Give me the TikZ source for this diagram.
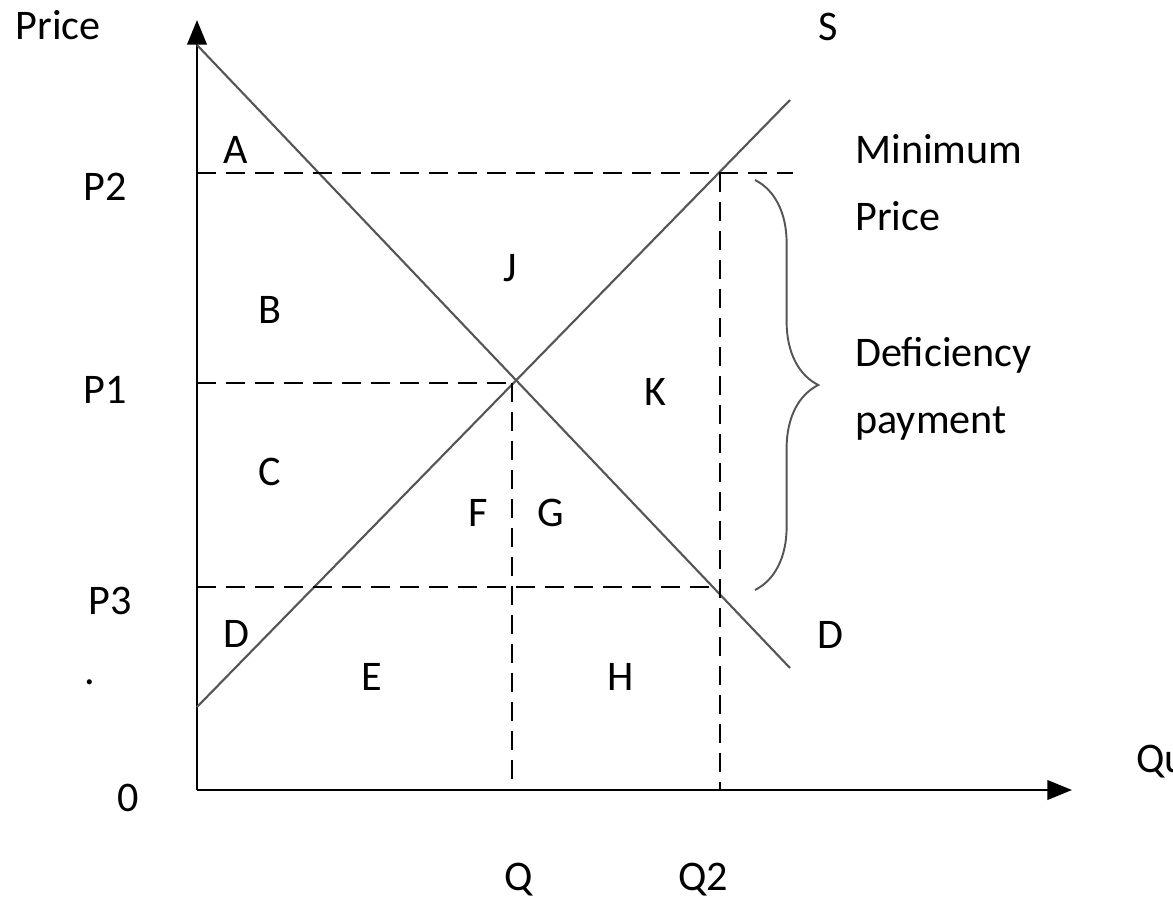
\documentclass[tikz,border=0pt]{standalone}
\usepackage{fontspec}
\setmainfont{Carlito}
\usetikzlibrary{arrows.meta, positioning, calc, decorations.pathreplacing}
\definecolor{cCurve}{RGB}{85,85,85}
\tikzset{
	axis/.style ={line width=1.6pt, -{Triangle[length=14pt, width=11pt]}},
	curve/.style={line width=1.2pt, draw=cCurve},
	guide/.style={line width=1.1pt, dash pattern=on 11pt off 5.5pt},
	lbl/.style  ={font=\fontsize{24}{38}\selectfont, inner sep=0pt},
	txt/.style  ={lbl, anchor=base west, align=left},
	brc/.style  ={line width=1.1pt, draw=cCurve, decorate, decoration={brace, amplitude=36pt}},
}

\begin{document}
\begin{tikzpicture}[x=0.02cm, y=-0.02cm]
	\clip (0,0) rectangle (1173,899);
	% axes
	\coordinate (O) at (197,790);
	\coordinate (ytop) at (197,20);
	\coordinate (xend) at (1072,790);
	\draw[axis] (O) -- (ytop);
	\draw[axis] (O) -- (xend);
	% demand and supply
	\coordinate (dtop) at (197,45);  \coordinate (dbot) at (790,668);
	\coordinate (sbot) at (197,707); \coordinate (stop) at (790,100);
	\draw[curve] (dtop) -- (dbot);
	\draw[curve] (sbot) -- (stop);
	% price levels and quantities
	\coordinate (eq) at (512,383);
	\coordinate (p2) at (197,173); \coordinate (p2end) at (793,173);
	\coordinate (p1) at (197,383);
	\coordinate (p3) at (197,587); \coordinate (p3end) at (720,587);
	\coordinate (q) at (512,790);
	\coordinate (q2top) at (720,173); \coordinate (q2) at (720,790);
	\draw[guide] (p2) -- (p2end);
	\draw[guide] (p1) -- (eq);
	\draw[guide] (p3) -- (p3end);
	\draw[guide] (eq) -- (q);
	\draw[guide] (q2top) -- (q2);
	% brace
	\coordinate (bt) at (755,180); \coordinate (bb) at (755,590);
	\draw[brc] (bt) -- (bb);
	% axis labels
	\node[lbl] (price) at (58,25) {Price};
	\node[txt] (qty) at (1136,772) {Quantity};
	\node[lbl] (zero) at (128,798) {0};
	\node[lbl] (dot) at (90,682) {.};
	\node[lbl] (lp2) at (105,187) {P2};
	\node[lbl] (lp1) at (105,390) {P1};
	\node[lbl] (lp3) at (110,601) {P3};
	\node[lbl] (lq) at (519,880) {Q};
	\node[lbl] (lq2) at (703,880) {Q2};
	\node[lbl] (ls) at (828,27) {S};
	\node[lbl] (ld) at (830,635) {D};
	% areas
	\node[lbl] (a) at (236,150) {A};
	\node[lbl] (b) at (270,310) {B};
	\node[lbl] (c) at (270,472) {C};
	\node[lbl] (d) at (236,634) {D};
	\node[lbl] (e) at (372,677) {E};
	\node[lbl] (f) at (478,513) {F};
	\node[lbl] (g) at (551,513) {G};
	\node[lbl] (h) at (621,677) {H};
	\node[lbl] (j) at (510,268) {J};
	\node[lbl] (k) at (655,392) {K};
	% notes (base = last line)
	\node[txt] (minp) at (855,230) {Minimum\\Price};
	\node[txt] (defp) at (855,433) {Deficiency\\payment};
\end{tikzpicture}
\end{document}
